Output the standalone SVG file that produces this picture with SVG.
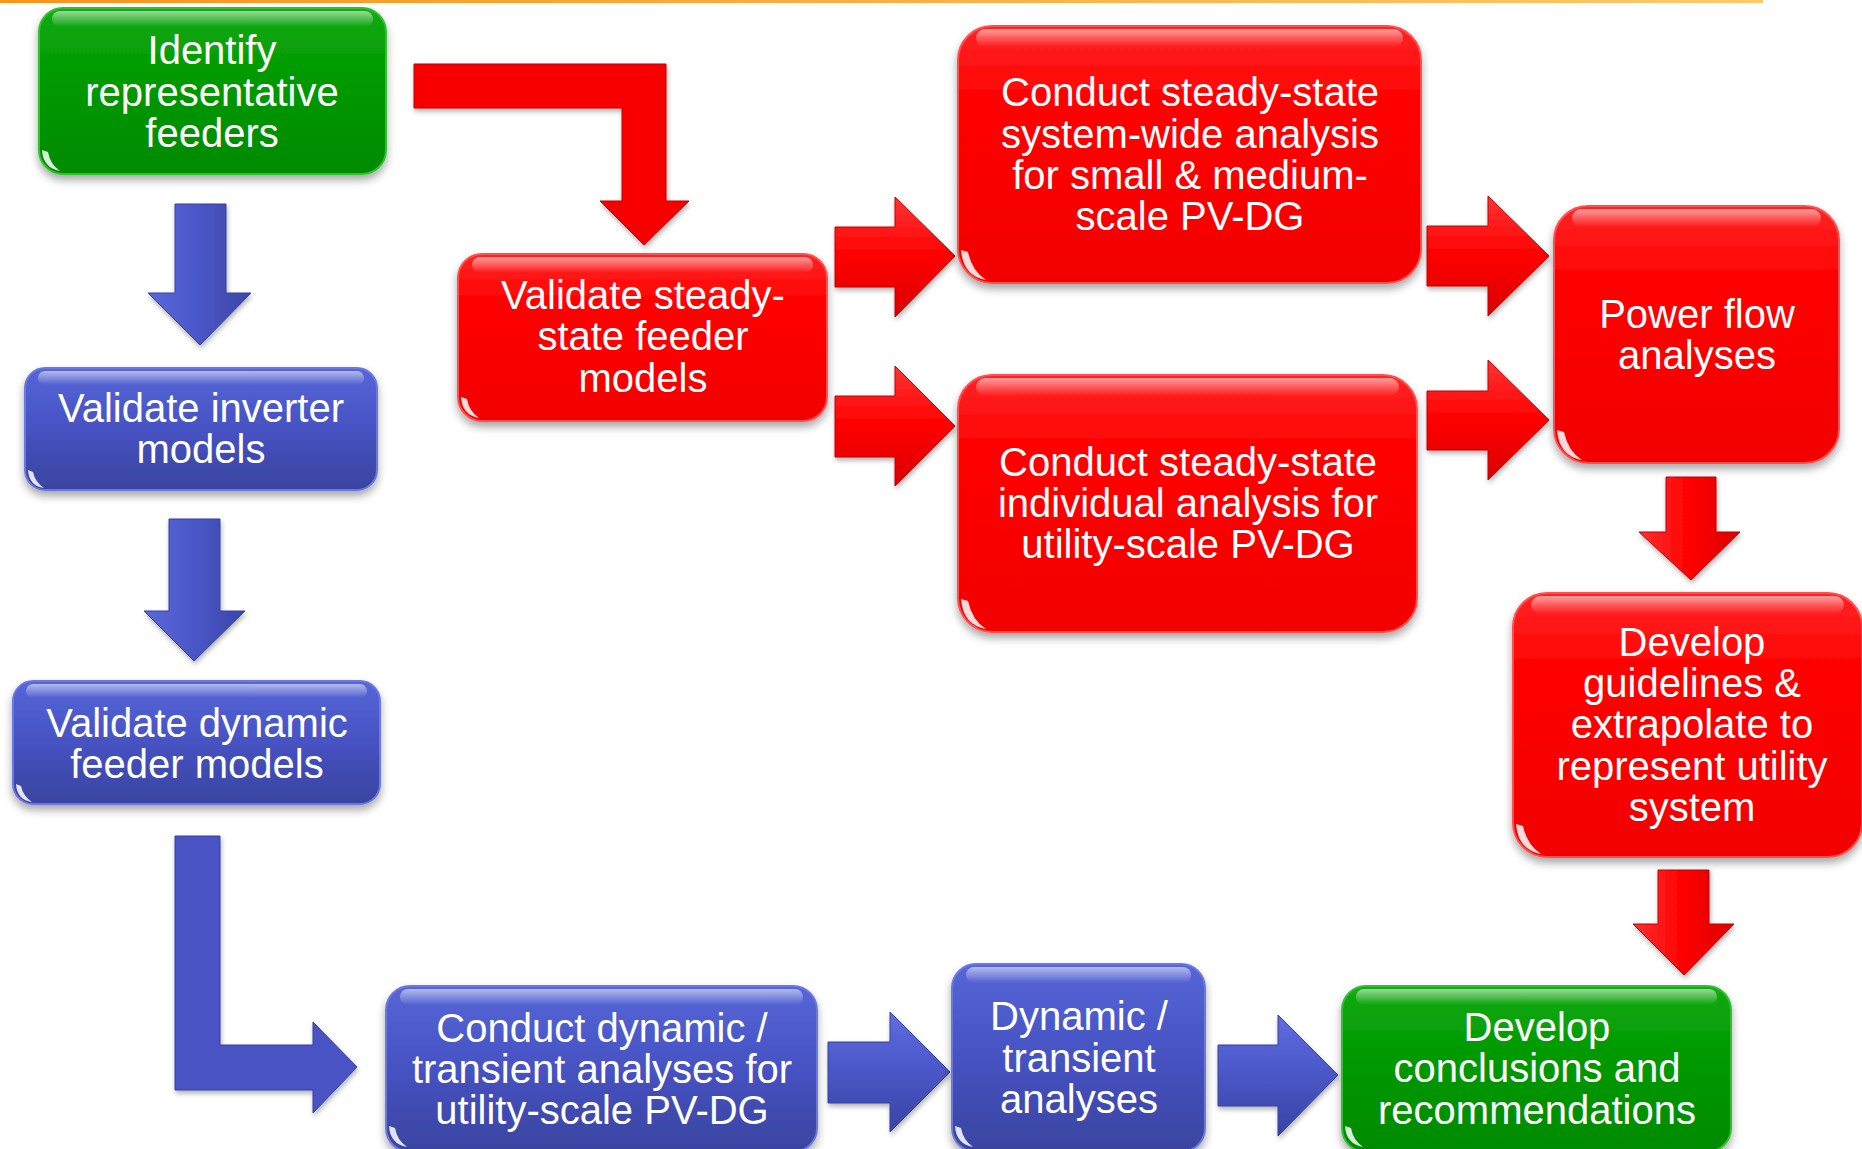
<svg xmlns="http://www.w3.org/2000/svg" width="1862" height="1149" viewBox="0 0 1862 1149">
<style>
.t{font-family:"Liberation Sans",Arial,sans-serif;font-size:40px;fill:#ffffff;text-anchor:middle}
.blue{fill:url(#gBlue);stroke:#6b78e0;stroke-width:2}
.red{fill:url(#gRed);stroke:#ff5050;stroke-width:2}
.green{fill:url(#gGreen);stroke:#30c030;stroke-width:2}
.shine{fill:url(#gShine)}
.glint{fill:#ffffff;opacity:.85}
.ab{fill:url(#aBlueV);stroke:#3540a0;stroke-width:1}
.abh{fill:url(#aBlueH);stroke:#3540a0;stroke-width:1}
.abl{fill:#4853c4;stroke:#3540a0;stroke-width:1}
.ar{fill:url(#aRedV);stroke:#c00000;stroke-width:1}
.arl{fill:#f80000;stroke:#c00000;stroke-width:1}
.arh{fill:url(#aRedH);stroke:#c00000;stroke-width:1}
</style>
<defs>
<linearGradient id="topline" x1="0" y1="0" x2="1" y2="0"><stop offset="0" stop-color="#f7941d"/><stop offset="1" stop-color="#fdc96a"/></linearGradient>
<linearGradient id="gBlue" x1="0" y1="0" x2="0" y2="1"><stop offset="0" stop-color="#5666d8"/><stop offset="0.5" stop-color="#4652c2"/><stop offset="1" stop-color="#3a449f"/></linearGradient>
<linearGradient id="gRed" x1="0" y1="0" x2="0" y2="1"><stop offset="0" stop-color="#ff2424"/><stop offset="0.3" stop-color="#ff0000"/><stop offset="1" stop-color="#f20000"/></linearGradient>
<linearGradient id="gGreen" x1="0" y1="0" x2="0" y2="1"><stop offset="0" stop-color="#14aa14"/><stop offset="0.4" stop-color="#009a00"/><stop offset="1" stop-color="#008a00"/></linearGradient>
<linearGradient id="gShine" x1="0" y1="0" x2="0" y2="1"><stop offset="0" stop-color="#ffffff" stop-opacity="0.55"/><stop offset="1" stop-color="#ffffff" stop-opacity="0"/></linearGradient>
<linearGradient id="aBlueV" x1="0" y1="0" x2="1" y2="0"><stop offset="0" stop-color="#5a68dc"/><stop offset="0.5" stop-color="#4a56c6"/><stop offset="1" stop-color="#3a46a8"/></linearGradient>
<linearGradient id="aBlueH" x1="0" y1="0" x2="0" y2="1"><stop offset="0" stop-color="#5f6de0"/><stop offset="0.5" stop-color="#4a56c6"/><stop offset="1" stop-color="#3844a4"/></linearGradient>
<linearGradient id="aRedV" x1="0" y1="0" x2="1" y2="0"><stop offset="0" stop-color="#ff3030"/><stop offset="0.5" stop-color="#ff0000"/><stop offset="1" stop-color="#dc0000"/></linearGradient>
<linearGradient id="aRedH" x1="0" y1="0" x2="0" y2="1"><stop offset="0" stop-color="#ff3434"/><stop offset="0.5" stop-color="#ff0000"/><stop offset="1" stop-color="#d80000"/></linearGradient>
<filter id="sh" x="-10%" y="-10%" width="120%" height="130%"><feDropShadow dx="0" dy="5" stdDeviation="4" flood-color="#000" flood-opacity="0.35"/></filter>
<filter id="sha" x="-10%" y="-10%" width="120%" height="130%"><feDropShadow dx="1" dy="3" stdDeviation="2.5" flood-color="#000" flood-opacity="0.3"/></filter>
</defs>
<rect width="1862" height="1149" fill="#ffffff"/>
<rect x="0" y="0" width="1763" height="3" fill="url(#topline)"/>

<g id="connectors" filter="url(#sha)">
<polygon class="ab" points="175,204 226,204 226,293 251,293 200,345 148,293 175,293"/>
<polygon class="ab" points="169,519 220,519 220,611 245,611 194,661 144,611 169,611"/>
<polygon class="abl" points="175,836 220,836 220,1045 313,1045 313,1022 357,1067 313,1113 313,1090 175,1090"/>
<polygon class="abh" points="828,1042 890,1042 890,1012 950,1072 890,1132 890,1103 828,1103"/>
<polygon class="abh" points="1218,1045 1278,1045 1278,1015 1338,1075 1278,1136 1278,1106 1218,1106"/>
<polygon class="arl" points="414,64 666,64 666,201 689,201 644,245 600,201 622,201 622,108 414,108"/>
<polygon class="arh" points="835,227 895,227 895,197 955,256 895,317 895,287 835,287"/>
<polygon class="arh" points="835,396 895,396 895,366 955,426 895,486 895,457 835,457"/>
<polygon class="arh" points="1427,226 1488,226 1488,196 1549,256 1488,316 1488,286 1427,286"/>
<polygon class="arh" points="1427,391 1488,391 1488,360 1549,420 1488,480 1488,450 1427,450"/>
<polygon class="ar" points="1666,477 1716,477 1716,532 1740,532 1691,580 1639,532 1666,532"/>
<polygon class="ar" points="1658,870 1709,870 1709,924 1734,924 1684,975 1633,924 1658,924"/>
</g>

<g id="n1">
<rect class="green" x="39" y="8" width="347" height="166" rx="24" filter="url(#sh)"/>
<rect class="shine" x="52" y="11" width="321" height="16" rx="8"/>
<path class="glint" d="M42,150 Q43,168 60,171 Q50,164 48,152 Z"/>
<text class="t" x="212" y="64">Identify</text>
<text class="t" x="212" y="106">representative</text>
<text class="t" x="212" y="147">feeders</text>
</g>

<g id="n2">
<rect class="blue" x="25" y="368" width="352" height="122" rx="20" filter="url(#sh)"/>
<rect class="shine" x="38" y="371" width="326" height="14" rx="7"/>
<path class="glint" d="M28,470 Q29,486 44,488 Q35,482 33,472 Z"/>
<text class="t" x="201" y="422">Validate inverter</text>
<text class="t" x="201" y="463">models</text>
</g>

<g id="n3">
<rect class="blue" x="13" y="681" width="367" height="123" rx="20" filter="url(#sh)"/>
<rect class="shine" x="26" y="684" width="341" height="14" rx="7"/>
<path class="glint" d="M16,784 Q17,800 32,802 Q23,796 21,786 Z"/>
<text class="t" x="197" y="737">Validate dynamic</text>
<text class="t" x="197" y="778">feeder models</text>
</g>

<g id="n4">
<rect class="red" x="458" y="254" width="369" height="167" rx="24" filter="url(#sh)"/>
<rect class="shine" x="472" y="257" width="341" height="16" rx="8"/>
<path class="glint" d="M461,397 Q462,415 479,418 Q469,411 467,399 Z"/>
<text class="t" x="643" y="309">Validate steady-</text>
<text class="t" x="643" y="350">state feeder</text>
<text class="t" x="643" y="392">models</text>
</g>

<g id="n5">
<rect class="red" x="958" y="26" width="463" height="257" rx="34" filter="url(#sh)"/>
<rect class="shine" x="976" y="29" width="427" height="18" rx="9"/>
<path class="glint" d="M961,250 Q963,276 986,280 Q972,271 968,252 Z"/>
<text class="t" x="1190" y="106">Conduct steady-state</text>
<text class="t" x="1190" y="148">system-wide analysis</text>
<text class="t" x="1190" y="189">for small &amp; medium-</text>
<text class="t" x="1190" y="230">scale PV-DG</text>
</g>

<g id="n6">
<rect class="red" x="958" y="375" width="459" height="257" rx="34" filter="url(#sh)"/>
<rect class="shine" x="976" y="378" width="423" height="18" rx="9"/>
<path class="glint" d="M961,599 Q963,625 986,629 Q972,620 968,601 Z"/>
<text class="t" x="1188" y="476">Conduct steady-state</text>
<text class="t" x="1188" y="517">individual analysis for</text>
<text class="t" x="1188" y="558">utility-scale PV-DG</text>
</g>

<g id="n7">
<rect class="red" x="1554" y="206" width="285" height="257" rx="34" filter="url(#sh)"/>
<rect class="shine" x="1572" y="209" width="249" height="18" rx="9"/>
<path class="glint" d="M1557,430 Q1559,456 1582,460 Q1568,451 1564,432 Z"/>
<text class="t" x="1697" y="328">Power flow</text>
<text class="t" x="1697" y="369">analyses</text>
</g>

<g id="n8">
<rect class="red" x="1513" y="593" width="349" height="264" rx="34" filter="url(#sh)"/>
<rect class="shine" x="1531" y="596" width="313" height="18" rx="9"/>
<path class="glint" d="M1516,824 Q1518,850 1541,854 Q1527,845 1523,826 Z"/>
<text class="t" x="1692" y="656">Develop</text>
<text class="t" x="1692" y="697">guidelines &amp;</text>
<text class="t" x="1692" y="738">extrapolate to</text>
<text class="t" x="1692" y="780">represent utility</text>
<text class="t" x="1692" y="821">system</text>
</g>

<g id="n9">
<rect class="blue" x="386" y="986" width="431" height="166" rx="24" filter="url(#sh)"/>
<rect class="shine" x="400" y="989" width="403" height="16" rx="8"/>
<path class="glint" d="M389,1126 Q390,1144 407,1147 Q397,1140 395,1128 Z"/>
<text class="t" x="602" y="1042">Conduct dynamic /</text>
<text class="t" x="602" y="1083">transient analyses for</text>
<text class="t" x="602" y="1124">utility-scale PV-DG</text>
</g>

<g id="n10">
<rect class="blue" x="952" y="964" width="253" height="188" rx="24" filter="url(#sh)"/>
<rect class="shine" x="966" y="967" width="225" height="16" rx="8"/>
<path class="glint" d="M955,1126 Q956,1144 973,1147 Q963,1140 961,1128 Z"/>
<text class="t" x="1079" y="1030">Dynamic /</text>
<text class="t" x="1079" y="1072">transient</text>
<text class="t" x="1079" y="1113">analyses</text>
</g>

<g id="n11">
<rect class="green" x="1342" y="986" width="389" height="166" rx="24" filter="url(#sh)"/>
<rect class="shine" x="1356" y="989" width="361" height="16" rx="8"/>
<path class="glint" d="M1345,1126 Q1346,1144 1363,1147 Q1353,1140 1351,1128 Z"/>
<text class="t" x="1537" y="1041">Develop</text>
<text class="t" x="1537" y="1082">conclusions and</text>
<text class="t" x="1537" y="1124">recommendations</text>
</g>
</svg>
